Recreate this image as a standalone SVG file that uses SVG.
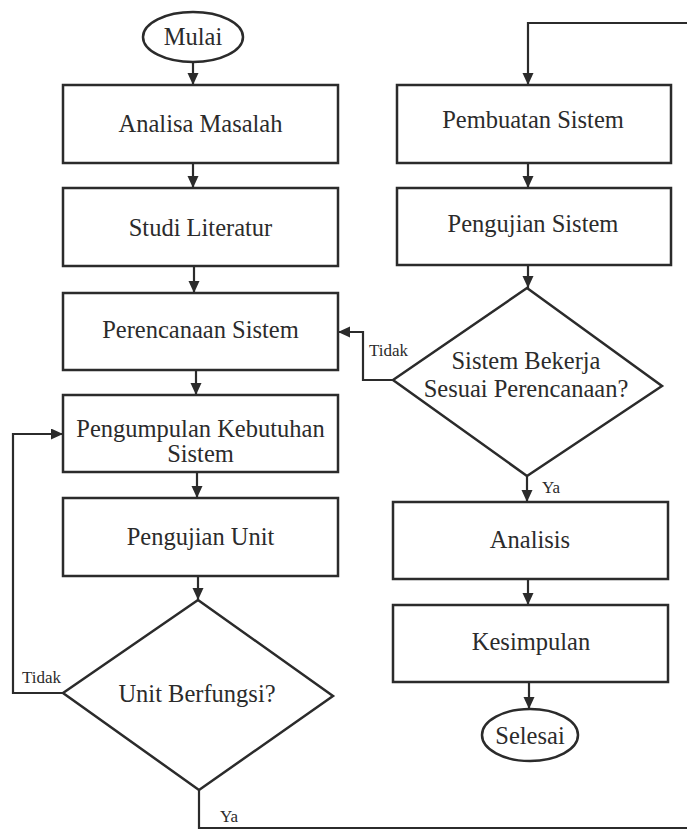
<svg xmlns="http://www.w3.org/2000/svg" width="687" height="830" viewBox="0 0 687 830">
<style>
.box{fill:#fff;stroke:#2b2b2b;stroke-width:2.5}
text{font-family:'Liberation Serif','Times New Roman',serif;fill:#2b2b2b}
.t{font-size:24.5px;text-anchor:middle}
.s{font-size:17px}
.c{fill:none;stroke:#2b2b2b;stroke-width:2.2}
</style>
<defs>
<marker id="ah" markerUnits="userSpaceOnUse" markerWidth="12" markerHeight="12" refX="12" refY="5.5" orient="auto">
<path d="M0,0 L12,5.5 L0,11 z" fill="#2b2b2b"/>
</marker>
</defs>
<rect width="687" height="830" fill="#fff"/>
<g id="connectors">
<path class="c" d="M193,62 V85" marker-end="url(#ah)"/>
<path class="c" d="M193,163 V188" marker-end="url(#ah)"/>
<path class="c" d="M194,266 V293" marker-end="url(#ah)"/>
<path class="c" d="M196,370 V395" marker-end="url(#ah)"/>
<path class="c" d="M197,472 V498" marker-end="url(#ah)"/>
<path class="c" d="M198,576 V600" marker-end="url(#ah)"/>
<path class="c" d="M63,693 H13 V434 H63" marker-end="url(#ah)"/>
<path class="c" d="M199,790 V828 H687"/>
<path class="c" d="M687,23 H528 V85" marker-end="url(#ah)"/>
<path class="c" d="M528,163 V188" marker-end="url(#ah)"/>
<path class="c" d="M528,265 V288" marker-end="url(#ah)"/>
<path class="c" d="M393,380 H363 V332 H338" marker-end="url(#ah)"/>
<path class="c" d="M527,476 V502" marker-end="url(#ah)"/>
<path class="c" d="M528,579 V605" marker-end="url(#ah)"/>
<path class="c" d="M529,682 V709" marker-end="url(#ah)"/>
<text class="s" x="369" y="356">Tidak</text>
<text class="s" x="542" y="493">Ya</text>
<text class="s" x="22" y="683">Tidak</text>
<text class="s" x="220" y="822">Ya</text>
</g>
<g id="mulai">
<ellipse class="box" cx="193" cy="37" rx="50" ry="25"/>
<text class="t" x="193" y="45">Mulai</text>
</g>
<g id="analisa">
<rect class="box" x="63" y="85" width="275" height="78"/>
<text class="t" x="200.5" y="132">Analisa Masalah</text>
</g>
<g id="studi">
<rect class="box" x="63" y="188" width="275" height="78"/>
<text class="t" x="200.5" y="236">Studi Literatur</text>
</g>
<g id="perencanaan">
<rect class="box" x="63" y="293" width="275" height="77"/>
<text class="t" x="200.5" y="338">Perencanaan Sistem</text>
</g>
<g id="pengumpulan">
<rect class="box" x="63" y="395" width="275" height="77"/>
<text class="t" x="200.5" y="437">Pengumpulan Kebutuhan</text>
<text class="t" x="200.5" y="462">Sistem</text>
</g>
<g id="pengujian-unit">
<rect class="box" x="63" y="498" width="275" height="78"/>
<text class="t" x="200.5" y="545">Pengujian Unit</text>
</g>
<g id="unit-berfungsi">
<polygon class="box" points="198,600 333,696 199,790 63,693"/>
<text class="t" x="197" y="702">Unit Berfungsi?</text>
</g>
<g id="pembuatan">
<rect class="box" x="397" y="85" width="274" height="78"/>
<text class="t" x="533" y="128">Pembuatan Sistem</text>
</g>
<g id="pengujian-sistem">
<rect class="box" x="397" y="188" width="274" height="77"/>
<text class="t" x="533" y="232">Pengujian Sistem</text>
</g>
<g id="sistem-bekerja">
<polygon class="box" points="527,288 662,386 527,476 393,380"/>
<text class="t" x="526" y="369">Sistem Bekerja</text>
<text class="t" x="526" y="397">Sesuai Perencanaan?</text>
</g>
<g id="analisis">
<rect class="box" x="393" y="502" width="275" height="77"/>
<text class="t" x="530" y="548">Analisis</text>
</g>
<g id="kesimpulan">
<rect class="box" x="393" y="605" width="275" height="77"/>
<text class="t" x="531" y="650">Kesimpulan</text>
</g>
<g id="selesai">
<ellipse class="box" cx="530" cy="735" rx="48" ry="26"/>
<text class="t" x="530" y="744">Selesai</text>
</g>
</svg>
